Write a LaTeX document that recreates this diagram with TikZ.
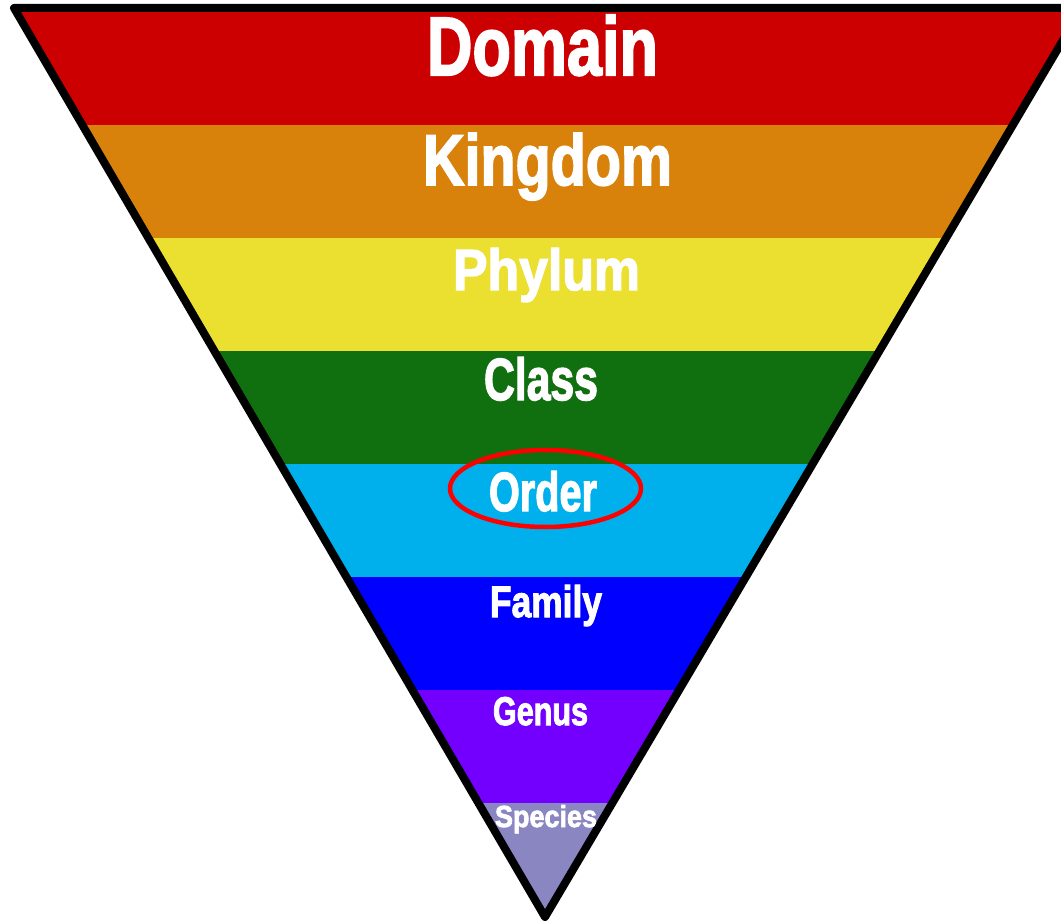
\documentclass[tikz,border=0pt]{standalone}
\usepackage{fontspec}
\setmainfont{Liberation Sans}
\newfontfamily\heavyfont{Liberation Sans}[BoldFeatures={FakeBold=2.5}]
\usetikzlibrary{shapes.geometric}
\definecolor{cDomain}{HTML}{CC0000}
\definecolor{cKingdom}{HTML}{D8820C}
\definecolor{cPhylum}{HTML}{EBDF2F}
\definecolor{cClass}{HTML}{10700F}
\definecolor{cOrder}{HTML}{00B0EC}
\definecolor{cFamily}{HTML}{0000FF}
\definecolor{cGenus}{HTML}{7300FF}
\definecolor{cSpecies}{HTML}{8A86C2}
\newcommand\rankword[3]{\resizebox{#2pt}{#3pt}{\heavyfont\bfseries #1}}
\tikzset{
  rank/.style={anchor=base, inner sep=0pt, text=white},
  ring/.style={draw=red, ellipse, line width=4.5pt, minimum width=191pt, minimum height=77pt, inner sep=0pt}
}
\begin{document}
\begin{tikzpicture}[x=1pt,y=-1pt]
\useasboundingbox (0,0) rectangle (1061,923);
\clip (0,0) rectangle (1061,923);
\coordinate (tl) at (14,8);
\coordinate (tr) at (1082,8);
\coordinate (ap) at (545,917);
\begin{scope}
  \clip (tl) -- (tr) -- (ap) -- cycle;
  \fill[cDomain]  (0,0)   rectangle (1100,125);
  \fill[cKingdom] (0,125) rectangle (1100,238);
  \fill[cPhylum]  (0,238) rectangle (1100,351);
  \fill[cClass]   (0,351) rectangle (1100,464);
  \fill[cOrder]   (0,464) rectangle (1100,577);
  \fill[cFamily]  (0,577) rectangle (1100,690);
  \fill[cGenus]   (0,690) rectangle (1100,803);
  \fill[cSpecies] (0,803) rectangle (1100,930);
\end{scope}
\draw[line width=8pt, line join=round] (tl) -- (tr) -- (ap) -- cycle;
\node[rank] (domain)  at (542.5,75)  {\rankword{Domain}{231}{60}};
\node[rank] (kingdom) at (547.5,185) {\rankword{Kingdom}{249}{52}};
\node[rank] (phylum)  at (546.5,290) {\rankword{Phylum}{187}{42}};
\node[rank] (class)   at (541,400)   {\rankword{Class}{114}{43}};
\node[rank] (order)   at (543,511)   {\rankword{Order}{108}{40}};
\node[rank] (family)  at (546,617)   {\rankword{Family}{112}{32}};
\node[rank] (genus)   at (540.5,725) {\rankword{Genus}{95}{28}};
\node[rank] (species) at (546,827)   {\rankword{Species}{102}{22}};
\node[ring] (ordring) at (545.5,488.5) {};
\end{tikzpicture}
\end{document}
